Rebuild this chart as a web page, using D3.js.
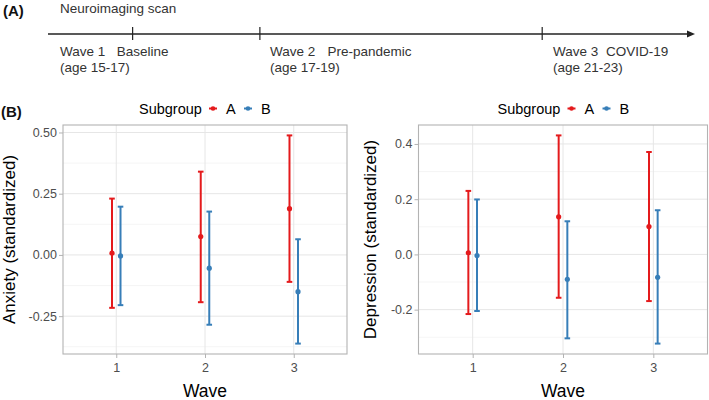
<!DOCTYPE html>
<html>
<head>
<meta charset="utf-8">
<script src="https://cdn.jsdelivr.net/npm/d3@7"></script>
<style>
  html, body { margin: 0; padding: 0; background: #fff; }
  svg { display: block; font-family: "Liberation Sans", Arial, Helvetica, sans-serif; }
</style>
</head>
<body>
<svg id="chart" width="709" height="400"></svg>
<script>
// ---------- Data ----------
const waves = ["1", "2", "3"];
const subgroups = ["A", "B"];
const subgroupColors = ["#E41A1C", "#377EB8"];

// Panel A timeline
const timelineWaves = ["Wave 1", "Wave 2", "Wave 3"];
const timelineLabels = ["Baseline", "Pre-pandemic", "COVID-19"];
const timelineAges = ["(age 15-17)", "(age 17-19)", "(age 21-23)"];

// Anxiety (standardized)
const anxietyMeanA  = [0.007, 0.075, 0.189];
const anxietyLowerA = [-0.216, -0.193, -0.110];
const anxietyUpperA = [0.230, 0.340, 0.488];
const anxietyMeanB  = [-0.004, -0.054, -0.150];
const anxietyLowerB = [-0.205, -0.285, -0.362];
const anxietyUpperB = [0.197, 0.177, 0.064];
const anxietyTicks = [-0.25, 0, 0.25, 0.5];
const anxietyTickLabels = ["-0.25", "0.00", "0.25", "0.50"];

// Depression (standardized)
const depressionMeanA  = [0.006, 0.136, 0.101];
const depressionLowerA = [-0.216, -0.157, -0.169];
const depressionUpperA = [0.230, 0.431, 0.371];
const depressionMeanB  = [-0.004, -0.090, -0.083];
const depressionLowerB = [-0.205, -0.304, -0.323];
const depressionUpperB = [0.199, 0.120, 0.160];
const depressionTicks = [-0.2, 0, 0.2, 0.4];
const depressionTickLabels = ["-0.2", "0.0", "0.2", "0.4"];

// ---------- Drawing ----------
const svg = d3.select("#chart");

// Panel A
svg.append("text").attr("x", 3).attr("y", 16)
  .attr("font-size", 15).attr("font-weight", "bold").attr("fill", "#111").text("(A)");
svg.append("text").attr("x", 60).attr("y", 12.5)
  .attr("font-size", 13.5).attr("fill", "#333").text("Neuroimaging scan");

const tl = d3.scaleLinear().domain([0, 1]).range([48, 694]);
const tickPos = [0.131, 0.328, 0.765]; // fraction along the timeline
svg.append("line").attr("x1", tl(0)).attr("x2", tl(1) - 5).attr("y1", 34).attr("y2", 34)
  .attr("stroke", "#222").attr("stroke-width", 1.4);
svg.append("path")
  .attr("d", `M${tl(1) + 1},34 L${tl(1) - 7},30.5 L${tl(1) - 7},37.5 Z`)
  .attr("fill", "#222");
const textStarts = [60, 270, 553];
const labelOffsets = [56.7, 57.5, 53];
timelineWaves.forEach((w, i) => {
  const x = tl(tickPos[i]);
  svg.append("line").attr("x1", x).attr("x2", x).attr("y1", 27).attr("y2", 40)
    .attr("stroke", "#222").attr("stroke-width", 1.2);
  const tx = textStarts[i];
  svg.append("text").attr("x", tx).attr("y", 56).attr("font-size", 13.5).attr("fill", "#333").text(w);
  svg.append("text").attr("x", tx + labelOffsets[i]).attr("y", 56).attr("font-size", 13.5).attr("fill", "#333").text(timelineLabels[i]);
  svg.append("text").attr("x", tx).attr("y", 71.5).attr("font-size", 13.5).attr("fill", "#333").text(timelineAges[i]);
});

// Panel B label
svg.append("text").attr("x", 1).attr("y", 117)
  .attr("font-size", 15).attr("font-weight", "bold").attr("fill", "#111").text("(B)");

function drawPanel(opts) {
  const { left, right, top, bottom, meansA, lowA, upA, meansB, lowB, upB, ticks, tickLabels, yTitle, minorTicks } = opts;
  const g = svg.append("g");
  const allVals = lowA.concat(lowB, upA, upB);
  const mn = d3.min(allVals), mx = d3.max(allVals);
  const pad = (mx - mn) * 0.05;
  const y = d3.scaleLinear().domain([mn - pad, mx + pad]).range([bottom, top]);
  const x = d3.scalePoint().domain(waves).range([left, right]).padding(0.6);
  const dodge = x.step() * 0.048;

  // minor grid
  g.selectAll(".minor").data(minorTicks).enter().append("line")
    .attr("x1", left).attr("x2", right).attr("y1", d => y(d)).attr("y2", d => y(d))
    .attr("stroke", "#f2f2f2").attr("stroke-width", 0.8);
  // major grid
  g.selectAll(".major").data(ticks).enter().append("line")
    .attr("x1", left).attr("x2", right).attr("y1", d => y(d)).attr("y2", d => y(d))
    .attr("stroke", "#e6e6e6").attr("stroke-width", 1);
  g.selectAll(".vmajor").data(waves).enter().append("line")
    .attr("x1", d => x(d)).attr("x2", d => x(d)).attr("y1", top).attr("y2", bottom)
    .attr("stroke", "#e6e6e6").attr("stroke-width", 1);

  // y axis
  const yAxis = d3.axisLeft(y).tickValues(ticks).tickSize(4).tickPadding(2)
    .tickFormat((d, i) => tickLabels[i]);
  const ya = g.append("g").attr("transform", `translate(${left},0)`).call(yAxis);
  ya.select(".domain").remove();
  ya.selectAll(".tick line").attr("stroke", "#b3b3b3");
  ya.selectAll(".tick text").attr("fill", "#4d4d4d").attr("font-size", 12.5)
    .attr("font-family", "Liberation Sans, Arial, sans-serif");

  // x axis
  const xAxis = d3.axisBottom(x).tickSize(4).tickPadding(5);
  const xa = g.append("g").attr("transform", `translate(0,${bottom})`).call(xAxis);
  xa.select(".domain").remove();
  xa.selectAll(".tick line").attr("stroke", "#b3b3b3");
  xa.selectAll(".tick text").attr("fill", "#4d4d4d").attr("font-size", 12.5)
    .attr("font-family", "Liberation Sans, Arial, sans-serif");

  // border
  g.append("rect").attr("x", left).attr("y", top).attr("width", right - left).attr("height", bottom - top)
    .attr("fill", "none").attr("stroke", "#b3b3b3").attr("stroke-width", 1.1);

  // series
  const series = [
    { m: meansA, lo: lowA, hi: upA, off: -dodge, c: subgroupColors[0] },
    { m: meansB, lo: lowB, hi: upB, off: dodge, c: subgroupColors[1] }
  ];
  series.forEach(s => {
    waves.forEach((w, i) => {
      const cx = x(w) + s.off;
      g.append("line").attr("x1", cx).attr("x2", cx).attr("y1", y(s.lo[i])).attr("y2", y(s.hi[i]))
        .attr("stroke", s.c).attr("stroke-width", 2);
      [s.lo[i], s.hi[i]].forEach(v => {
        g.append("line").attr("x1", cx - 2.8).attr("x2", cx + 2.8).attr("y1", y(v)).attr("y2", y(v))
          .attr("stroke", s.c).attr("stroke-width", 2);
      });
      g.append("circle").attr("cx", cx).attr("cy", y(s.m[i])).attr("r", 2.6).attr("fill", s.c);
    });
  });

  // axis titles
  g.append("text").attr("x", (left + right) / 2).attr("y", 397).attr("text-anchor", "middle")
    .attr("font-size", 17.5).attr("fill", "#000").text("Wave");
  g.append("text").attr("transform", `translate(${opts.yTitleX},${(top + bottom) / 2}) rotate(-90)`)
    .attr("text-anchor", "middle").attr("font-size", 17).attr("fill", "#000").text(yTitle);

  // legend
  const lg = g.append("g");
  lg.append("text").attr("x", opts.legendX).attr("y", 113.5).attr("font-size", 14.5).attr("fill", "#000").text("Subgroup");
  const keyX = [opts.legendX + 74, opts.legendX + 109];
  subgroups.forEach((sg, i) => {
    lg.append("line").attr("x1", keyX[i] - 4).attr("x2", keyX[i] + 4).attr("y1", 108.5).attr("y2", 108.5)
      .attr("stroke", subgroupColors[i]).attr("stroke-width", 2);
    lg.append("circle").attr("cx", keyX[i]).attr("cy", 108.5).attr("r", 2.3).attr("fill", subgroupColors[i]);
    lg.append("text").attr("x", keyX[i] + 13).attr("y", 113.5).attr("font-size", 14.5).attr("fill", "#000").text(sg);
  });
}

drawPanel({
  left: 63, right: 347, top: 125, bottom: 354,
  meansA: anxietyMeanA, lowA: anxietyLowerA, upA: anxietyUpperA,
  meansB: anxietyMeanB, lowB: anxietyLowerB, upB: anxietyUpperB,
  ticks: anxietyTicks, tickLabels: anxietyTickLabels, minorTicks: [-0.375, -0.125, 0.125, 0.375],
  yTitle: "Anxiety (standardized)", yTitleX: 15, legendX: 139
});

drawPanel({
  left: 418.5, right: 707.5, top: 125, bottom: 354,
  meansA: depressionMeanA, lowA: depressionLowerA, upA: depressionUpperA,
  meansB: depressionMeanB, lowB: depressionLowerB, upB: depressionUpperB,
  ticks: depressionTicks, tickLabels: depressionTickLabels, minorTicks: [-0.3, -0.1, 0.1, 0.3],
  yTitle: "Depression (standardized)", yTitleX: 376, legendX: 497.5
});
</script>
</body>
</html>
